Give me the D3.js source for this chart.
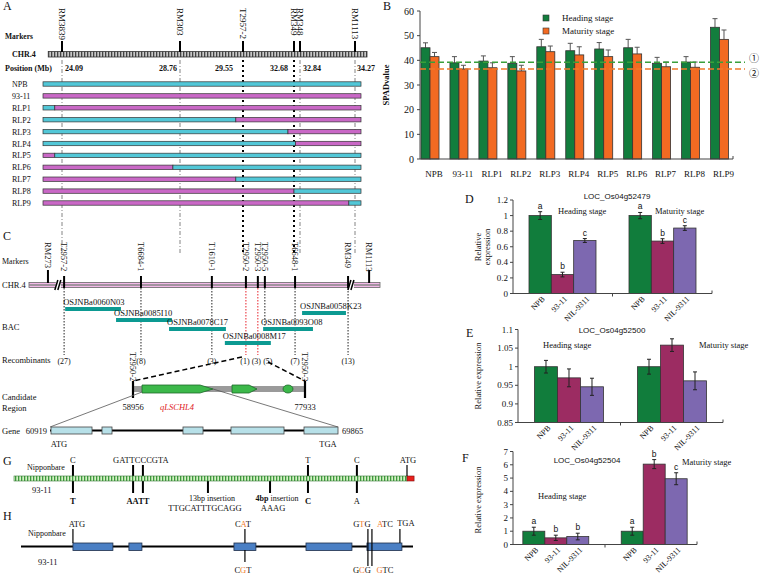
<!DOCTYPE html>
<html><head><meta charset="utf-8">
<script src="https://cdn.jsdelivr.net/npm/d3@7"></script>
<style>
body{margin:0;background:#fff}
svg text{font-family:"Liberation Serif","Times New Roman",serif;fill:#111}
</style></head><body>
<svg id="c" width="765" height="574"></svg>
<script>
// ---------------- Panel A data ----------------
const markersA = ["RM3839","RM303","T2957-2","RM349","RM348","RM1113"];
const markersAMb = [24.09, 28.76, 29.55, 32.68, 32.84, 34.27];
const positionLabelsA = ["24.09","28.76","29.55","32.68","32.84","34.27"];
const flankingA = ["T2957-2","RM349"];
const lineStartMb = 23.8, lineEndMb = 34.45, chromStartMb = 23.88, chromEndMb = 34.63;
const linesA = ["NPB","93-11","RLP1","RLP2","RLP3","RLP4","RLP5","RLP6","RLP7","RLP8","RLP9"];
const lineStartGeno = ["N","M","N","N","N","N","M","M","M","M","M"];
const lineBreakMb = [null,null,23.98,29.46,32.31,32.72,23.98,28.48,29.46,32.68,34.11];

// ---------------- Panel B data ----------------
const spadCats = ["NPB","93-11","RLP1","RLP2","RLP3","RLP4","RLP5","RLP6","RLP7","RLP8","RLP9"];
const spadHeading = [45.1,39.0,39.7,38.8,45.5,43.9,44.6,45.1,38.8,39.3,53.4];
const spadHeadingErr = [2.0,2.5,2.1,2.7,3.0,3.0,2.6,3.4,2.4,2.2,3.5];
const spadMaturity = [41.5,36.5,37.0,35.7,43.5,42.2,41.5,42.6,37.4,37.2,48.5];
const spadMaturityErr = [1.7,1.5,2.0,2.3,2.3,3.3,2.7,2.7,1.9,2.1,3.8];
const spadRefLines = [39.2, 36.5];
const spadRefMarks = ["\u2460","\u2461"];
const spadTicks = [0,10,20,30,40,50,60];
const spadSeries = ["Heading stage","Maturity stage"];

// ---------------- Panel C data ----------------
const markersC = ["RM273","T2957-2","T6684-1","T1610-1","T2950-2","T2950-3","T2950-5","T6648-1","RM349","RM1113"];
const markersCPos = [5.4,10.0,31.9,52.1,61.8,65.2,67.2,75.8,90.9,96.9];
const recombinants = [null,27,8,3,1,3,5,7,13,null];
const chrBreaksC = [8.5, 92.0];
const bacNames = ["OSJNBa0060N03","OSJNBa0085I10","OSJNBa0078C17","OSJNBa0008M17","OSJNBa0093O08","OSJNBa0058K23"];
const bacStart = [10.3,24.8,39.9,55.8,66.7,77.8];
const bacEnd = [26.2,40.7,56.1,68.9,80.9,90.3];
const candRegion = [58956, 77933];
const candGeneStart = [59949, 69879, 75506];
const candGeneEnd = [67783, 72637, 76609];
const geneSpan = [60919, 69865];
const geneExonStart = [60950,62534,65050,66541,68809];
const geneExonEnd = [62224,62845,65672,68188,69865];

// ---------------- Panels D/E/F data ----------------
const exprGenotypes = ["NPB","93-11","NIL-9311"];
const exprStages = ["Heading stage","Maturity stage"];
const exprD = [[1.0,0.243,0.68],[1.0,0.673,0.84]];
const exprDErr = [[0.05,0.03,0.025],[0.04,0.03,0.03]];
const exprDLetters = [["a","b","c"],["a","b","c"]];
const exprDTicks = [0,0.2,0.4,0.6,0.8,1,1.2];
const exprE = [[1.0,0.970,0.946],[1.0,1.058,0.962]];
const exprEErr = [[0.017,0.024,0.023],[0.02,0.017,0.024]];
const exprETicks = [0.85,0.9,0.95,1,1.05,1.1];
const exprF = [[1.0,0.5,0.6],[1.0,6.05,4.95]];
const exprFErr = [[0.3,0.2,0.25],[0.3,0.34,0.45]];
const exprFLetters = [["a","b","b"],["a","b","c"]];
const exprFTicks = [0,1,2,3,4,5,6,7];

// ---------------- Panel G / H data ----------------
const promoterSites = [-1700,-1394,-1344,-1013,-697,-504,-255];
const promoterType = ["snp","snp","snp","ins","ins","snp","snp"];
const cdsExonStart = [0,571,1643,2378,3000];
const cdsExonEnd = [408,704,1867,2847,3357];
const cdsSnpPos = [1755,3010,3051];

// ================= drawing =================
const svg = d3.select("#c");
svg.append("rect").attr("width",765).attr("height",574).attr("fill","#fff");
const defs = svg.append("defs");
const hp = defs.append("pattern").attr("id","hatchA").attr("width",3).attr("height",8).attr("patternUnits","userSpaceOnUse");
hp.append("rect").attr("width",3).attr("height",8).attr("fill","#c8c8c8");
hp.append("rect").attr("width",1.3).attr("height",8).attr("fill","#444");
const gp = defs.append("pattern").attr("id","stripeG").attr("width",3).attr("height",8).attr("patternUnits","userSpaceOnUse");
gp.append("rect").attr("width",3).attr("height",8).attr("fill","#d6f2c6");
gp.append("rect").attr("width",1.3).attr("height",8).attr("fill","#3d9a3d");

function T(x,y,s,o={}){
  const t = svg.append("text").attr("x",x).attr("y",y).text(s)
    .attr("font-size",o.size||8.5).attr("text-anchor",o.anchor||"start");
  if(o.bold) t.attr("font-weight","bold");
  if(o.italic) t.attr("font-style","italic");
  if(o.fill) t.style("fill",o.fill);
  if(o.family) t.style("font-family",o.family);
  if(o.rot!==undefined) t.attr("transform",`rotate(${o.rot},${x},${y})`);
  if(o.dy) t.attr("dy",o.dy);
  return t;
}
function L(x1,y1,x2,y2,o={}){
  const l = svg.append("line").attr("x1",x1).attr("y1",y1).attr("x2",x2).attr("y2",y2)
    .attr("stroke",o.stroke||"#000").attr("stroke-width",o.w||1);
  if(o.dash) l.attr("stroke-dasharray",o.dash);
  return l;
}

// Panel letters
T(3,10,"A",{size:12}); T(383,10,"B",{size:12}); T(3,240,"C",{size:12});
T(465,203,"D",{size:12}); T(466,337,"E",{size:12}); T(462,462,"F",{size:12});
T(3,465,"G",{size:12}); T(3,520,"H",{size:12});

// ---------------- Panel A ----------------
{
  const xA = d3.scaleLinear().domain([lineStartMb, ...markersAMb, lineEndMb]).range([43,62,180,243,294,300,355,361]);
  const yA = d3.scalePoint().domain(linesA).range([84,203]);
  const geno = {N:"#52c7d7", M:"#c968c6"};
  T(5,39,"Markers",{size:7.5,bold:true});
  T(12,57,"CHR.4",{size:8,bold:true});
  T(5,71,"Position (Mb)",{size:8,bold:true});
  markersA.forEach((m,i)=>{
    const x = xA(markersAMb[i]);
    if(flankingA.includes(m)) L(x,60,x,253,{w:2,dash:"2,3"});
    else L(x,60,x,253,{stroke:"#666",w:0.8,dash:"4,2,1,2"});
  });
  svg.append("rect").attr("x",xA(chromStartMb)).attr("y",51.5).attr("width",xA(chromEndMb)-xA(chromStartMb)).attr("height",5.5)
    .attr("fill","url(#hatchA)").attr("stroke","#333").attr("stroke-width",0.8);
  const labOff = [[3,"start"],[-3,"end"],[-10,"end"],[-6,"end"],[3,"start"],[2,"start"]];
  markersA.forEach((m,i)=>{
    const x = xA(markersAMb[i]);
    L(x,41,x,52,{w:2});
    T(x,8,m,{size:9,rot:90,dy:"0.35em"});
    T(x+labOff[i][0],71,positionLabelsA[i],{size:8,bold:true,anchor:labOff[i][1]});
  });
  linesA.forEach((ln,i)=>{
    const y = yA(ln);
    T(12,y+3,ln,{size:8});
    const g0 = lineStartGeno[i], g1 = g0==="N"?"M":"N";
    const segs = lineBreakMb[i]===null ? [[lineStartMb,lineEndMb,g0]] : [[lineStartMb,lineBreakMb[i],g0],[lineBreakMb[i],lineEndMb,g1]];
    segs.forEach(s=>{
      svg.append("rect").attr("x",xA(s[0])).attr("y",y-2.2).attr("width",xA(s[1])-xA(s[0])).attr("height",4.4)
        .attr("fill",geno[s[2]]).attr("stroke","#333").attr("stroke-width",0.7);
    });
  });
}

// ---------------- Panel B ----------------
{
  const y = d3.scaleLinear().domain([0,60]).range([159,11]);
  const x = d3.scaleBand().domain(spadCats).range([421,728.5]).paddingInner(0.378).paddingOuter(0);
  const xi = d3.scaleBand().domain(spadSeries).range([0,x.bandwidth()]);
  const col = ["#127d3d","#f26a22"];
  const vals = [spadHeading, spadMaturity], errs = [spadHeadingErr, spadMaturityErr];
  spadCats.forEach((c,i)=>{
    spadSeries.forEach((s,k)=>{
      const bx = x(c)+xi(s), v = vals[k][i], e = errs[k][i], cx = bx + xi.bandwidth()/2;
      L(cx,y(v),cx,y(v+e),{stroke:"#555",w:1});
      L(cx-2.5,y(v+e),cx+2.5,y(v+e),{stroke:"#555",w:1});
      svg.append("rect").attr("x",bx).attr("y",y(v)).attr("width",xi.bandwidth()).attr("height",y(0)-y(v))
        .attr("fill",col[k]).attr("stroke","#333").attr("stroke-width",0.8);
    });
    T(x(c)+x.bandwidth()/2+4,176.5,c,{size:9,anchor:"middle"});
  });
  L(420,11,420,159,{stroke:"#444"});
  L(420,159,733,159,{stroke:"#444"});
  L(733,159,733,156,{stroke:"#444"});
  spadTicks.forEach(t=>{
    L(417,y(t),420,y(t),{stroke:"#444"});
    T(414,y(t)+3.5,String(t),{size:10,anchor:"end"});
  });
  T(389,85,"SPADvalue",{size:8.5,bold:true,rot:-90,anchor:"middle"});
  const refCol = ["#3a9f3a","#f07a2a"];
  spadRefLines.forEach((r,k)=>{
    L(420,y(r),745,y(r),{stroke:refCol[k],w:1.6,dash:"6,3"});
  });
  T(754,y(spadRefLines[0]),spadRefMarks[0],{size:10,anchor:"middle",family:"Noto Sans CJK SC"});
  T(754,y(spadRefLines[1])+8,spadRefMarks[1],{size:10,anchor:"middle",family:"Noto Sans CJK SC"});
  spadSeries.forEach((s,k)=>{
    svg.append("rect").attr("x",543).attr("y",15+k*13).attr("width",6).attr("height",6).attr("fill",col[k]).attr("stroke","#333").attr("stroke-width",0.6);
    T(562,21+k*13,s,{size:9});
  });
}

// ---------------- Panels D / E / F ----------------
const exprCol = ["#117d3c","#9c2c62","#7d68b0"];
function exprPanel(o){
  const y = d3.scaleLinear().domain(o.domain).range([o.y0,o.y1]);
  const xs = d3.scaleBand().domain(exprStages).range([o.x0,o.x1]).paddingInner(0.33).paddingOuter(o.po);
  const xg = d3.scaleBand().domain(exprGenotypes).range([0,xs.bandwidth()]);
  exprStages.forEach((st,k)=>{
    exprGenotypes.forEach((g,j)=>{
      const bx = xs(st)+xg(g), v = o.vals[k][j], e = o.errs[k][j], cx = bx+xg.bandwidth()/2;
      svg.append("rect").attr("x",bx).attr("y",y(v)).attr("width",xg.bandwidth()).attr("height",o.y0-y(v))
        .attr("fill",exprCol[j]).attr("stroke","#333").attr("stroke-width",0.8);
      L(cx,y(v-e),cx,y(v+e),{stroke:"#222",w:1});
      L(cx-2,y(v-e),cx+2,y(v-e),{stroke:"#222",w:1});
      L(cx-2,y(v+e),cx+2,y(v+e),{stroke:"#222",w:1});
      if(o.letters) T(cx,y(v+e)-3,o.letters[k][j],{size:8.5,anchor:"middle",family:"Liberation Sans"});
      T(cx+5,o.y0+6,g,{size:8,anchor:"end",rot:-45});
    });
  });
  L(o.x0,o.y0,o.x0,o.y1,{stroke:"#444"});
  L(o.x0,o.y0,o.x1,o.y0,{stroke:"#444"});
  const mid = (xs(exprStages[0])+xs.bandwidth()+xs(exprStages[1]))/2;
  L(mid,o.y0,mid,o.y0+3,{stroke:"#444"});
  L(o.x1,o.y0,o.x1,o.y0-3,{stroke:"#444"});
  o.ticks.forEach(t=>{
    L(o.x0-3,y(t),o.x0,y(t),{stroke:"#444"});
    T(o.x0-5,y(t)+3,String(t),{size:9,anchor:"end"});
  });
  T(o.title[0],o.title[1],o.title[2],{size:8,anchor:"middle",family:"Liberation Sans"});
  T(o.hs[0],o.hs[1],exprStages[0],{size:8.5});
  T(o.ms[0],o.ms[1],exprStages[1],{size:8.5});
  if(o.twoLine){
    T(o.yl[0]-4,o.yl[1],"Relative",{size:8.5,rot:-90,anchor:"middle"});
    T(o.yl[0]+5,o.yl[1],"expression",{size:8.5,rot:-90,anchor:"middle"});
  } else T(o.yl[0],o.yl[1],"Relative expression",{size:8.5,rot:-90,anchor:"middle"});
}
exprPanel({domain:[0,1.2],y0:293.5,y1:200,x0:513,x1:712,po:0.16,vals:exprD,errs:exprDErr,letters:exprDLetters,ticks:exprDTicks,
  title:[617,199,"LOC_Os04g52479"],hs:[558,214],ms:[655,214],yl:[485,247],twoLine:true});
exprPanel({domain:[0.85,1.1],y0:422.5,y1:329.5,x0:518,x1:723,po:0.16,vals:exprE,errs:exprEErr,letters:null,ticks:exprETicks,
  title:[612,333,"LOC_Os04g52500"],hs:[543,348],ms:[699,348],yl:[481,376],twoLine:false});
exprPanel({domain:[0,7],y0:544.5,y1:451.5,x0:513,x1:697,po:0.1,vals:exprF,errs:exprFErr,letters:exprFLetters,ticks:exprFTicks,
  title:[587,463,"LOC_Os04g52504"],hs:[538,499],ms:[682,465],yl:[481,500],twoLine:false});

// ---------------- Panel C ----------------
{
  const xC = d3.scaleLinear().domain([0,100]).range([29,380]);
  T(2,264,"Markers",{size:8});
  T(2,288,"CHR.4",{size:8.5});
  T(2,330,"BAC",{size:8.5});
  T(2,363,"Recombinants",{size:8.5});
  T(2,400,"Candidate",{size:8.5});
  T(2,411,"Region",{size:8.5});
  const recOff = {"T2950-2":-1,"T2950-3":-1.5,"T2950-5":3};
  markersC.forEach((m,i)=>{
    if(recombinants[i]===null) return;
    const x = xC(markersCPos[i]);
    const red = (m==="T2950-2"||m==="T2950-3");
    const yEnd = m==="T2950-5" ? 327 : 355;
    L(x,288,x,yEnd,{stroke:red?"#e8202a":"#222",w:1,dash:"1.5,1.5"});
    T(x+(recOff[m]||0),364,`(${recombinants[i]})`,{size:8,anchor:"middle"});
  });
  svg.append("rect").attr("x",xC(0)).attr("y",282.5).attr("width",xC(100)-xC(0)).attr("height",5)
    .attr("fill","#f3b9e8").attr("stroke","#666").attr("stroke-width",0.8);
  L(xC(0),285,xC(100),285,{stroke:"#888",w:1.4});
  chrBreaksC.forEach(b=>{
    const x = xC(b);
    svg.append("rect").attr("x",x-3).attr("y",280).attr("width",5).attr("height",10).attr("fill","#fff");
    L(x-4,290,x-1,280,{w:1.5}); L(x-1,290,x+2,280,{w:1.5});
  });
  markersC.forEach((m,i)=>{
    const x = xC(markersCPos[i]);
    if(i===0||i===markersC.length-1) L(x,270,x,283,{w:2});
    else L(x,276,x,288,{w:2});
    T(x,242,m,{size:8.5,rot:90,dy:"0.35em"});
  });
  const bacRowY = [307,318,327,341,327,311];
  bacNames.forEach((b,i)=>{
    svg.append("rect").attr("x",xC(bacStart[i])).attr("y",bacRowY[i]).attr("width",xC(bacEnd[i])-xC(bacStart[i])).attr("height",4)
      .attr("fill","#0c9a92");
    T(xC(bacStart[i])-2,bacRowY[i]-2,b,{size:8.5});
  });
  const xR = d3.scaleLinear().domain(candRegion).range([133,305]);
  const iT2 = markersC.indexOf("T2950-2"), iT5 = markersC.indexOf("T2950-5");
  L(xC(markersCPos[iT2])-4,357,xR(candRegion[0]),381,{w:1.5,dash:"5,3"});
  L(xC(markersCPos[iT5])+3,362,xR(candRegion[1]),381,{w:1.5,dash:"5,3"});
  svg.append("rect").attr("x",xR(candRegion[0])).attr("y",386).attr("width",xR(candRegion[1])-xR(candRegion[0])).attr("height",6)
    .attr("fill","#9a9a9a");
  candRegion.forEach((p,i)=>{
    const x = xR(p);
    L(x,381,x,398,{w:2.2});
    T(x,352,i===0?"T2950-2":"T2950-3",{size:8.5,rot:90,dy:"0.35em"});
    T(x,410,String(p),{size:8.5,anchor:"middle"});
  });
  candGeneStart.forEach((s,i)=>{
    const a = xR(s), b = xR(candGeneEnd[i]);
    if(i<2){
      const h = i===0?13:8;
      svg.append("path").attr("d",`M${a},385L${b-h},385L${b},389L${b-h},393L${a},393Z`)
        .attr("fill","#3cb84a").attr("stroke","#1c6a28").attr("stroke-width",0.8);
    } else {
      svg.append("ellipse").attr("cx",(a+b)/2).attr("cy",389).attr("rx",(b-a)/2).attr("ry",4)
        .attr("fill","#3cb84a").attr("stroke","#1c6a28").attr("stroke-width",0.8);
    }
  });
  T(177,410,"qLSCHL4",{size:8.5,anchor:"middle",italic:true,fill:"#e01b24"});
  const xG = d3.scaleLinear().domain(geneSpan).range([50,338]);
  L(xR(candGeneStart[0]),392,xG(geneSpan[0]),427,{stroke:"#555",w:0.8});
  L(xR(candGeneEnd[0]),389,xG(geneSpan[1]),427,{stroke:"#555",w:0.8});
  L(xG(geneSpan[0]),430.5,xG(geneSpan[1]),430.5,{w:2.2});
  geneExonStart.forEach((s,i)=>{
    svg.append("rect").attr("x",xG(s)).attr("y",427).attr("width",xG(geneExonEnd[i])-xG(s)).attr("height",7)
      .attr("fill","#b7e0e8").attr("stroke","#444").attr("stroke-width",0.8);
  });
  T(2,434,"Gene",{size:8.5});
  T(xG(geneSpan[0])-3,434,String(geneSpan[0]),{size:8.5,anchor:"end"});
  T(xG(geneSpan[1])+4,434,String(geneSpan[1]),{size:8.5});
  T(xG(geneSpan[0])+9,447,"ATG",{size:8.5,anchor:"middle"});
  T(xG(geneSpan[1])-10,447,"TGA",{size:8.5,anchor:"middle"});
}

// ---------------- Panel G ----------------
{
  const xP = d3.scaleLinear().domain([-2000,0]).range([14,407]);
  promoterSites.forEach((p,i)=>{
    const x = xP(p);
    if(promoterType[i]==="snp") L(x,465,x,493,{w:2});
    else L(x,481,x,493,{w:2});
  });
  svg.append("rect").attr("x",xP(-2000)).attr("y",476).attr("width",xP(0)-xP(-2000)).attr("height",5)
    .attr("fill","url(#stripeG)").attr("stroke","#3a7a3a").attr("stroke-width",0.6);
  svg.append("rect").attr("x",xP(0)).attr("y",476).attr("width",xP(36)-xP(0)).attr("height",5)
    .attr("fill","#e8201c").attr("stroke","#7a1010").attr("stroke-width",0.6);
  L(xP(0),465,xP(0),476,{w:1.2});
  T(xP(0)+1,463,"ATG",{size:8.5,anchor:"middle"});
  T(27,470,"Nipponbare",{size:8});
  T(32,493,"93-11",{size:8.5});
  T(xP(promoterSites[0]),463,"C",{size:8.5,anchor:"middle"});
  T(xP(promoterSites[1])-20,463,"GATTCCCGTA",{size:8.5});
  T(xP(promoterSites[5]),463,"T",{size:8.5,anchor:"middle"});
  T(xP(promoterSites[6]),463,"C",{size:8.5,anchor:"middle"});
  T(xP(promoterSites[0]),504,"T",{size:8.5,anchor:"middle",bold:true});
  T((xP(promoterSites[1])+xP(promoterSites[2]))/2,504,"AATT",{size:8.5,anchor:"middle",bold:true});
  T(xP(promoterSites[3])+4,501,"13bp  insertion",{size:8,anchor:"middle"});
  T(xP(promoterSites[3])-3,510.5,"TTGCATTTGCAGG",{size:8.5,anchor:"middle"});
  const t4 = T(xP(promoterSites[4])+7,501,"",{size:8,anchor:"middle"});
  t4.append("tspan").attr("font-weight","bold").text("4bp");
  t4.append("tspan").text(" insertion");
  T(xP(promoterSites[4])+3,510.5,"AAAG",{size:8.5,anchor:"middle"});
  T(xP(promoterSites[5]),504,"C",{size:8.5,anchor:"middle",bold:true});
  T(xP(promoterSites[6]),504,"A",{size:8.5,anchor:"middle"});
}

// ---------------- Panel H ----------------
{
  const xH = d3.scaleLinear().domain([-530,3470]).range([21,413]);
  const orange = "#f07a2a";
  L(xH(-530),546.5,xH(3470),546.5,{w:2});
  cdsExonStart.forEach((s,i)=>{
    svg.append("rect").attr("x",xH(s)).attr("y",543).attr("width",xH(cdsExonEnd[i])-xH(s)).attr("height",7.5)
      .attr("fill","#4a7fc4").attr("stroke","#1f2f4a").attr("stroke-width",0.8);
  });
  function seq(x,yb,letters,hi){
    const t = T(x,yb,"",{size:8.5,anchor:"middle"});
    letters.split("").forEach((c,i)=>{ const s=t.append("tspan").text(c); if(i===hi) s.style("fill",orange); });
  }
  L(xH(0),529,xH(0),543,{w:1.2});
  T(xH(0)+4,527,"ATG",{size:8.5,anchor:"middle"});
  T(28,536,"Nipponbare",{size:8});
  T(38,565,"93-11",{size:8.5});
  const s0 = xH(cdsSnpPos[0]);
  L(s0,529,s0,543,{w:1.2}); L(s0,550,s0,562,{w:1.2});
  seq(s0-2,527,"CAT",1); seq(s0-2,573,"CGT",1);
  L(xH(cdsSnpPos[1]),529,xH(cdsSnpPos[1]),566,{w:1.2});
  L(xH(cdsSnpPos[2]),529,xH(cdsSnpPos[2]),566,{w:1.2});
  seq(xH(cdsSnpPos[1])-6,527,"GTG",1); seq(xH(cdsSnpPos[2])+13,527,"ATC",0);
  seq(xH(cdsSnpPos[1])-6,573,"GCG",1); seq(xH(cdsSnpPos[2])+13,573,"GTC",0);
  const stopX = xH(cdsExonEnd[4])-2;
  L(stopX,529,stopX,543,{w:1.2});
  T(stopX+6,526,"TGA",{size:8.5,anchor:"middle"});
}
</script></body></html>
